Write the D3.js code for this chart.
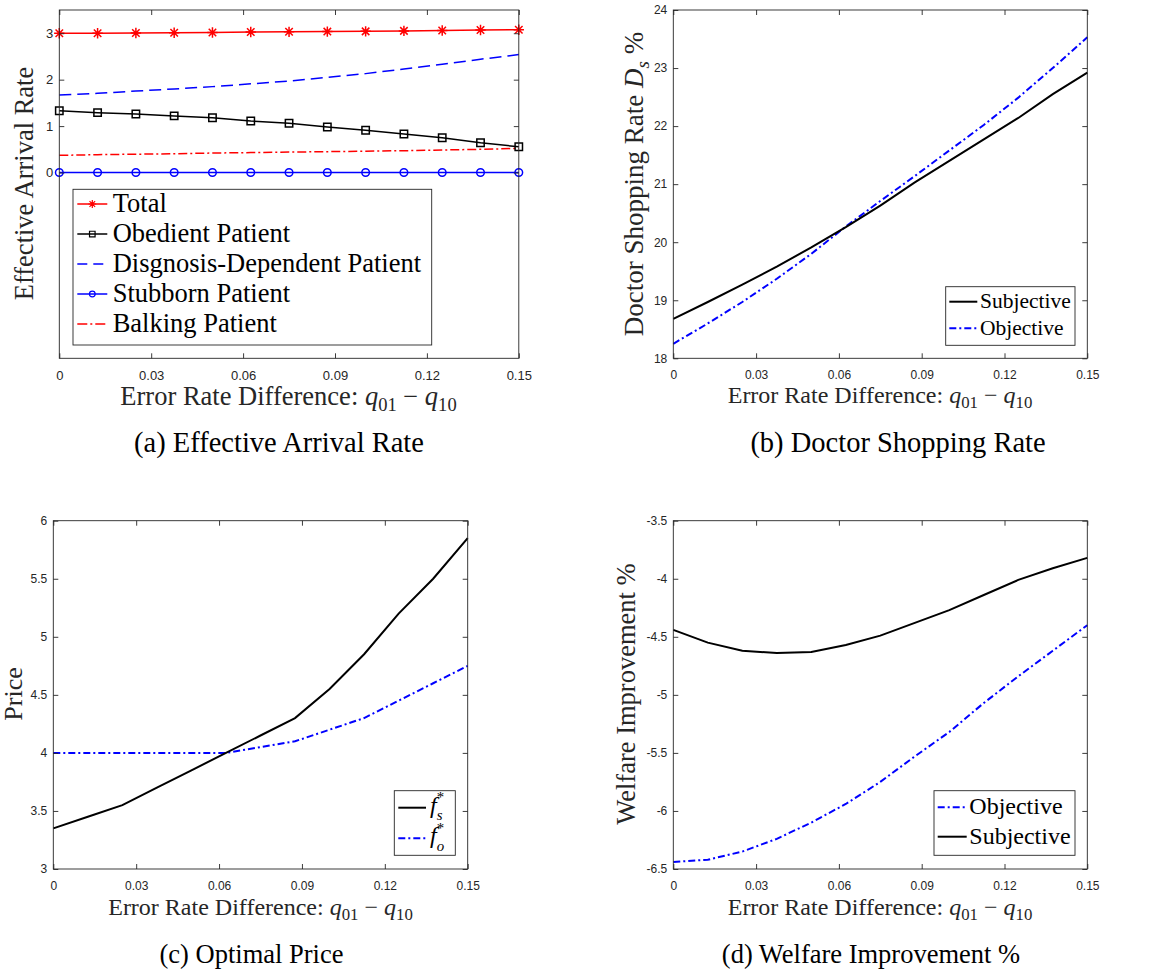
<!DOCTYPE html>
<html>
<head>
<meta charset="utf-8">
<script src="https://cdn.jsdelivr.net/npm/d3@7"></script>
<style>
  body { margin: 0; background: #fff; }
  svg { display: block; }
</style>
</head>
<body>
<svg id="fig" width="1160" height="969"></svg>
<script>
// shared x grid: error rate difference q01 - q10
var errDiff = [0, 0.0125, 0.025, 0.0375, 0.05, 0.0625, 0.075, 0.0875, 0.1, 0.1125, 0.125, 0.1375, 0.15];
var xTicks = [0, 0.03, 0.06, 0.09, 0.12, 0.15];
var xTickLabels = ['0', '0.03', '0.06', '0.09', '0.12', '0.15'];

// (a) effective arrival rate
var arrivalTotal = [3.00, 3.00, 3.005, 3.01, 3.015, 3.025, 3.03, 3.035, 3.04, 3.05, 3.06, 3.07, 3.075];
var arrivalObedient = [1.33, 1.29, 1.26, 1.22, 1.18, 1.11, 1.06, 0.98, 0.91, 0.83, 0.75, 0.64, 0.555];
var arrivalDependent = [1.67, 1.705, 1.755, 1.80, 1.85, 1.91, 1.97, 2.05, 2.13, 2.23, 2.33, 2.44, 2.54];
var arrivalStubborn = [0, 0, 0, 0, 0, 0, 0, 0, 0, 0, 0, 0, 0];
var arrivalBalking = [0.37, 0.385, 0.395, 0.405, 0.42, 0.43, 0.44, 0.45, 0.46, 0.47, 0.485, 0.50, 0.52];
var arrivalTicks = [0, 1, 2, 3];

// (b) doctor shopping rate %
var shopSubjective = [18.68, 18.97, 19.27, 19.58, 19.91, 20.26, 20.63, 21.03, 21.40, 21.77, 22.14, 22.55, 22.92];
var shopObjective = [18.25, 18.60, 18.97, 19.37, 19.80, 20.27, 20.71, 21.14, 21.58, 22.02, 22.49, 23.00, 23.53];
var shopTicks = [18, 19, 20, 21, 22, 23, 24];

// (c) optimal price
var priceSubjective = [3.35, 3.45, 3.55, 3.70, 3.85, 4.00, 4.15, 4.30, 4.55, 4.85, 5.20, 5.50, 5.85];
var priceObjective = [4.00, 4.00, 4.00, 4.00, 4.00, 4.00, 4.05, 4.10, 4.20, 4.30, 4.45, 4.60, 4.75];
var priceTicks = [3, 3.5, 4, 4.5, 5, 5.5, 6];

// (d) welfare improvement %
var welfareObjective = [-6.44, -6.42, -6.35, -6.24, -6.10, -5.94, -5.75, -5.53, -5.32, -5.07, -4.84, -4.62, -4.40];
var welfareSubjective = [-4.44, -4.55, -4.62, -4.64, -4.63, -4.57, -4.49, -4.38, -4.27, -4.14, -4.01, -3.91, -3.82];
var welfareTicks = [-6.5, -6, -5.5, -5, -4.5, -4, -3.5];

var serif = '"Liberation Serif", "Times New Roman", serif';
var sans = '"Liberation Sans", Arial, sans-serif';
var axisColor = '#262626';
var svg = d3.select('#fig');

var xLabelParts = [
  { t: 'Error Rate Difference: ' }, { t: 'q', it: true }, { t: '01', sub: true },
  { t: ' \u2212 ' }, { t: 'q', it: true }, { t: '10', sub: true }
];

// text with italic / sub / superscript pieces
function richText(text, parts, fs) {
  var shift = 0, prevW = 0;
  parts.forEach(function (p) {
    var small = p.sub || p.sup;
    var target = p.sub ? fs * (p.back ? 0.3 : 0.22) : (p.sup ? -fs * 0.45 : 0);
    var ts = text.append('tspan').text(p.t)
      .attr('font-size', small ? fs * (p.back || p.sup ? 0.62 : 0.7) : fs)
      .attr('dy', target - shift);
    if (p.it) ts.attr('font-style', 'italic');
    if (p.back) ts.attr('dx', -prevW);
    shift = target;
    prevW = ts.node().getComputedTextLength();
  });
}

function markerPath(kind, r) {
  if (kind === 'star') {
    var k = r * 0.72;
    return 'M' + (-r) + ',0L' + r + ',0M0,' + (-r) + 'L0,' + r +
      'M' + (-k) + ',' + (-k) + 'L' + k + ',' + k + 'M' + (-k) + ',' + k + 'L' + k + ',' + (-k);
  }
  if (kind === 'square') return 'M' + (-r) + ',' + (-r) + 'h' + (2 * r) + 'v' + (2 * r) + 'h' + (-2 * r) + 'Z';
  var p = d3.path();
  p.moveTo(r, 0);
  p.arc(0, 0, r, 0, 2 * Math.PI);
  p.closePath();
  return p.toString();
}

function drawLine(g, x, y, s) {
  var pts = errDiff.map(function (d, i) { return [d, s.values[i]]; });
  g.append('path').datum(pts)
    .attr('d', d3.line().x(function (d) { return x(d[0]); }).y(function (d) { return y(d[1]); }))
    .attr('fill', 'none')
    .attr('stroke', s.color)
    .attr('stroke-width', s.width)
    .attr('stroke-dasharray', s.dash || null);
  if (s.marker) {
    g.selectAll(null).data(pts).enter().append('path')
      .attr('transform', function (d) { return 'translate(' + x(d[0]) + ',' + y(d[1]) + ')'; })
      .attr('d', markerPath(s.marker, s.msize))
      .attr('fill', 'none')
      .attr('stroke', s.color)
      .attr('stroke-width', 1.5);
  }
}

function drawPanel(p) {
  var x = d3.scaleLinear().domain([0, 0.15]).range([p.left, p.right]);
  var y = d3.scaleLinear().domain(p.yDomain).range([p.bottom, p.top]);
  var g = svg.append('g');

  p.series.forEach(function (s) { drawLine(g, x, y, s); });

  function styleAxis(ax) {
    ax.select('.domain').remove();
    ax.attr('font-family', sans).attr('font-size', p.tickFs);
    ax.selectAll('.tick line').attr('stroke', axisColor).attr('stroke-width', 0.9);
    ax.selectAll('.tick text').attr('fill', axisColor);
  }
  g.append('g').attr('transform', 'translate(0,' + p.bottom + ')')
    .call(d3.axisBottom(x).tickValues(xTicks).tickFormat(function (d, i) { return xTickLabels[i]; })
      .tickSize(-5).tickPadding(12))
    .call(styleAxis);
  g.append('g').attr('transform', 'translate(0,' + p.top + ')')
    .call(d3.axisTop(x).tickValues(xTicks).tickFormat('').tickSize(-5))
    .call(styleAxis);
  g.append('g').attr('transform', 'translate(' + p.left + ',0)')
    .call(d3.axisLeft(y).tickValues(p.yTicks).tickFormat(function (d) { return String(d); })
      .tickSize(-5).tickPadding(6))
    .call(styleAxis);
  g.append('g').attr('transform', 'translate(' + p.right + ',0)')
    .call(d3.axisRight(y).tickValues(p.yTicks).tickFormat('').tickSize(-5))
    .call(styleAxis);

  g.append('rect')
    .attr('x', p.left).attr('y', p.top)
    .attr('width', p.right - p.left).attr('height', p.bottom - p.top)
    .attr('fill', 'none').attr('stroke', axisColor).attr('stroke-width', 0.9);

  var xl = g.append('text').attr('x', p.xLabelX).attr('y', p.xLabelY)
    .attr('text-anchor', 'middle').attr('font-family', serif).attr('fill', axisColor);
  richText(xl, xLabelParts, p.xLabelFs);

  var yl = g.append('text')
    .attr('transform', 'translate(' + p.yLabelX + ',' + p.yLabelY + ') rotate(-90)')
    .attr('text-anchor', 'middle').attr('font-family', serif).attr('fill', axisColor);
  richText(yl, p.yLabel, p.yLabelFs);

  g.append('text').attr('x', p.capX).attr('y', p.capY)
    .attr('text-anchor', 'middle').attr('font-family', serif).attr('font-size', p.capFs)
    .attr('fill', '#000').text(p.caption);

  drawLegend(g, p.legend);
}

function drawLegend(g, L) {
  var lg = g.append('g');
  lg.append('rect').attr('x', L.x).attr('y', L.y).attr('width', L.w).attr('height', L.h)
    .attr('fill', '#fff').attr('stroke', axisColor).attr('stroke-width', 0.9);
  L.items.forEach(function (it, i) {
    var cy = L.firstY + i * L.step;
    var s = it.series;
    lg.append('line')
      .attr('x1', L.lineX0).attr('x2', L.lineX1).attr('y1', cy).attr('y2', cy)
      .attr('stroke', s.color).attr('stroke-width', s.width)
      .attr('stroke-dasharray', it.dash || s.dash || null);
    if (s.marker) {
      lg.append('path')
        .attr('transform', 'translate(' + ((L.lineX0 + L.lineX1) / 2) + ',' + cy + ')')
        .attr('d', markerPath(s.marker, s.msize * 0.75))
        .attr('fill', 'none').attr('stroke', s.color).attr('stroke-width', 1.2);
    }
    var t = lg.append('text').attr('x', L.textX).attr('y', cy + L.baseOff)
      .attr('font-family', serif).attr('fill', '#000');
    richText(t, it.label, L.fs);
  });
}

// series styles
var sTotal = { values: arrivalTotal, color: '#ff0000', width: 1.5, marker: 'star', msize: 5.2 };
var sObedient = { values: arrivalObedient, color: '#000', width: 1.5, marker: 'square', msize: 3.7 };
var sDependent = { values: arrivalDependent, color: '#0000ff', width: 1.5, dash: '12,6' };
var sStubborn = { values: arrivalStubborn, color: '#0000ff', width: 1.5, marker: 'circle', msize: 3.8 };
var sBalking = { values: arrivalBalking, color: '#ff0000', width: 1.5, dash: '9,3,2,3' };

var sShopSub = { values: shopSubjective, color: '#000', width: 2 };
var sShopObj = { values: shopObjective, color: '#0000ff', width: 2, dash: '7,3,2,3' };
var sPriceSub = { values: priceSubjective, color: '#000', width: 2 };
var sPriceObj = { values: priceObjective, color: '#0000ff', width: 2, dash: '7,3,2,3' };
var sWelObj = { values: welfareObjective, color: '#0000ff', width: 2, dash: '7,3,2,3' };
var sWelSub = { values: welfareSubjective, color: '#000', width: 2 };

drawPanel({
  left: 59.3, right: 518.8, top: 10, bottom: 358.3, yDomain: [-4, 3.5], yTicks: arrivalTicks,
  tickFs: 13, xLabelX: 288.5, xLabelY: 405, xLabelFs: 26.5,
  yLabel: [{ t: 'Effective Arrival Rate' }], yLabelX: 33, yLabelY: 183.5, yLabelFs: 26.5,
  caption: '(a) Effective Arrival Rate', capX: 279, capY: 452, capFs: 28.5,
  series: [sBalking, sDependent, sStubborn, sObedient, sTotal],
  legend: {
    x: 73, y: 189.3, w: 358.7, h: 155.7, firstY: 204, step: 30,
    lineX0: 77.3, lineX1: 107.3, textX: 112.7, baseOff: 7.7, fs: 26.5,
    items: [
      { series: sTotal, label: [{ t: 'Total' }] },
      { series: sObedient, label: [{ t: 'Obedient Patient' }] },
      { series: sDependent, label: [{ t: 'Disgnosis-Dependent Patient' }], dash: '10,6' },
      { series: sStubborn, label: [{ t: 'Stubborn Patient' }] },
      { series: sBalking, label: [{ t: 'Balking Patient' }], dash: '10,3,2,3' }
    ]
  }
});

drawPanel({
  left: 673.3, right: 1087.3, top: 10, bottom: 358.3, yDomain: [18, 24], yTicks: shopTicks,
  tickFs: 12, xLabelX: 880, xLabelY: 403, xLabelFs: 24,
  yLabel: [{ t: 'Doctor Shopping Rate ' }, { t: 'D', it: true }, { t: 's', it: true, sub: true }, { t: ' %' }],
  yLabelX: 643, yLabelY: 184, yLabelFs: 27,
  caption: '(b) Doctor Shopping Rate', capX: 898, capY: 452, capFs: 28.5,
  series: [sShopObj, sShopSub],
  legend: {
    x: 945.7, y: 286.7, w: 129.3, h: 58.6, firstY: 301.7, step: 26.6,
    lineX0: 949.3, lineX1: 977.3, textX: 980, baseOff: 6.7, fs: 21.5,
    items: [
      { series: sShopSub, label: [{ t: 'Subjective' }] },
      { series: sShopObj, label: [{ t: 'Objective' }] }
    ]
  }
});

drawPanel({
  left: 53.3, right: 467.7, top: 520.7, bottom: 869, yDomain: [3, 6], yTicks: priceTicks,
  tickFs: 12, xLabelX: 260.5, xLabelY: 915, xLabelFs: 24,
  yLabel: [{ t: 'Price' }], yLabelX: 22, yLabelY: 694, yLabelFs: 26,
  caption: '(c) Optimal Price', capX: 251.5, capY: 963, capFs: 26.5,
  series: [sPriceObj, sPriceSub],
  legend: {
    x: 394.3, y: 790.7, w: 61, h: 64.6, firstY: 807.7, step: 30.6,
    lineX0: 398.3, lineX1: 426, textX: 430, baseOff: 5, fs: 24,
    items: [
      { series: sPriceSub, label: [{ t: 'f', it: true }, { t: '*', sup: true }, { t: 's', it: true, sub: true, back: true }] },
      { series: sPriceObj, label: [{ t: 'f', it: true }, { t: '*', sup: true }, { t: 'o', it: true, sub: true, back: true }] }
    ]
  }
});

drawPanel({
  left: 673.3, right: 1087.3, top: 520.7, bottom: 869, yDomain: [-6.5, -3.5], yTicks: welfareTicks,
  tickFs: 12, xLabelX: 880, xLabelY: 915, xLabelFs: 24,
  yLabel: [{ t: 'Welfare Improvement %' }], yLabelX: 635, yLabelY: 694, yLabelFs: 26.5,
  caption: '(d) Welfare Improvement %', capX: 871, capY: 963, capFs: 26.5,
  series: [sWelObj, sWelSub],
  legend: {
    x: 934, y: 790.7, w: 141, h: 64.6, firstY: 807.3, step: 29.4,
    lineX0: 937.7, lineX1: 966.7, textX: 969.3, baseOff: 7, fs: 24,
    items: [
      { series: sWelObj, label: [{ t: 'Objective' }] },
      { series: sWelSub, label: [{ t: 'Subjective' }] }
    ]
  }
});
</script>
</body>
</html>
